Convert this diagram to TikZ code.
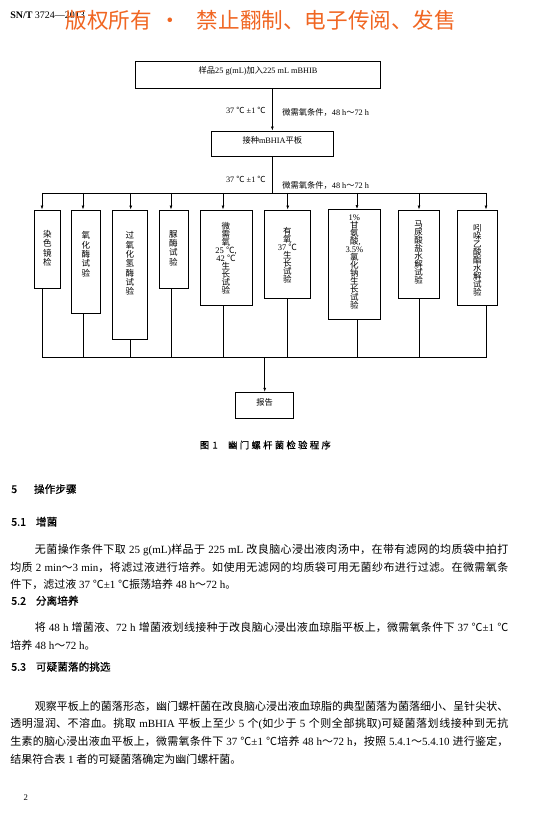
\documentclass[tikz,border=0pt]{standalone}
\usepackage{fontspec}
\setmainfont{Liberation Serif}
\newfontfamily\cjk{Noto Sans CJK SC}
\newfontfamily\hei{Noto Sans CJK SC}[FakeBold=0.6]
\newfontfamily\capfont{Noto Sans CJK SC}[LetterSpace=25,FakeBold=0.6]
\usetikzlibrary{arrows.meta,positioning,fit}

\definecolor{stamp}{RGB}{240,102,34}

% CJK characters get the CJK font, Latin stays serif
\newXeTeXintercharclass\cjkclass
\newcount\cjkcode
\newcommand\markcjk[2]{%
  \cjkcode=#1\relax
  \loop
    \XeTeXcharclass\cjkcode=\cjkclass
    \ifnum\cjkcode<#2\relax
    \advance\cjkcode by 1
  \repeat}
\markcjk{"2103}{"2103}
\markcjk{"3000}{"303F}
\markcjk{"4E00}{"9FFF}
\markcjk{"FF00}{"FFEF}
\XeTeXinterchartoks 0 \cjkclass = {\cjk}
\XeTeXinterchartoks 4095 \cjkclass = {\cjk}
\XeTeXinterchartoks \cjkclass 0 = {\rmfamily}
\XeTeXinterchartoks \cjkclass 4095 = {\rmfamily}
\XeTeXinterchartokenstate=1
\XeTeXlinebreaklocale "zh"
\XeTeXlinebreakskip=0pt plus 1pt minus 0.3pt

\tikzset{
  box/.style={draw, line width=0.7pt, inner sep=0pt},
  flow/.style={line width=0.45pt},
  arr/.style={flow, -{Latex[length=3pt,width=2.2pt]}},
  small/.style={inner sep=0pt, font=\fontsize{6.2}{7}\selectfont},
  vtext/.style={inner sep=0pt, align=center, anchor=north, font=\fontsize{6.4}{6}\selectfont},
  vtext wide/.style={vtext, font=\fontsize{6.4}{7}\selectfont},
  heading/.style={inner sep=0pt, anchor=west,
    font={\XeTeXinterchartokenstate=0 \hei\fontsize{8}{10}\selectfont}},
  body/.style={inner sep=0pt, anchor=north west, text width=373.5pt, align=justify,
    font=\fontsize{8.25}{13.2}\selectfont},
  caption/.style={inner sep=0pt, anchor=west,
    font={\XeTeXinterchartokenstate=0 \capfont\fontsize{7}{8}\selectfont}},
}

\begin{document}
\begin{tikzpicture}[x=0.75pt,y=-0.75pt]
  \useasboundingbox (0,0) rectangle (535,816);

  % page head
  \node[inner sep=0pt, anchor=west, font=\fontsize{7.5}{9}\selectfont] (head) at (10,15)
    {\textbf{SN/T} 3724—2013};
  \node[inner sep=0pt, anchor=west, text=stamp,
    font={\XeTeXinterchartokenstate=0 \cjk\fontsize{16.2}{18}\selectfont}] (stamp) at (65.5,20)
    {版权所有\kern13.5pt\makebox[0pt]{·}\kern20pt 禁止翻制、电子传阅、发售};

  % flow chart
  \node[box, small, fit={(135.7,61) (380.3,88.3)}] (sample) {样品25 g(mL)加入225 mL mBHIB};
  \node[box, small, fit={(211.7,131) (333,156.7)}] (plate) {接种mBHIA平板};

  \node[small, anchor=east] (temp1) at (266,110) {37 ℃ ±1 ℃};
  \node[small, anchor=west] (cond1) at (282,112) {微需氧条件，48 h～72 h};
  \node[small, anchor=east] (temp2) at (266,179) {37 ℃ ±1 ℃};
  \node[small, anchor=west] (cond2) at (282,185) {微需氧条件，48 h～72 h};

  \node[box, fit={(34.7,210) (60,288)}] (dye) {};
  \node[box, fit={(71,210) (100.7,313)}] (oxid) {};
  \node[box, fit={(112,210) (147.7,339)}] (cata) {};
  \node[box, fit={(159,210) (188,288)}] (urea) {};
  \node[box, fit={(200,210) (252,305)}] (micro) {};
  \node[box, fit={(264,210) (310.7,298)}] (aero) {};
  \node[box, fit={(328.3,209.5) (380.5,319.5)}] (glyc) {};
  \node[box, fit={(398.3,210) (439.2,298)}] (hipp) {};
  \node[box, fit={(457,210) (497.7,305)}] (indo) {};

  \node[vtext wide, below=15.5pt of dye.north] (dyeT) {染\\色\\镜\\检};
  \node[vtext wide, below=16.3pt of oxid.north] (oxidT) {氧\\化\\酶\\试\\验};
  \node[vtext wide, below=16.3pt of cata.north] (cataT) {过\\氧\\化\\氢\\酶\\试\\验};
  \node[vtext wide, below=15.5pt of urea.north] (ureaT) {脲\\酶\\试\\验};
  \node[vtext, below=9.5pt of micro.north] (microT) {微\\需\\氧\\25 ℃,\\42 ℃\\生\\长\\试\\验};
  \node[vtext, below=13.5pt of aero.north] (aeroT) {有\\氧\\37 ℃\\生\\长\\试\\验};
  \node[vtext, below=4.1pt of glyc.north] (glycT) {1\%\\甘\\氨\\酸\rlap{,}\\3.5\%\\氯\\化\\钠\\生\\长\\试\\验};
  \node[vtext, below=8pt of hipp.north] (hippT) {马\\尿\\酸\\盐\\水\\解\\试\\验};
  \node[vtext, below=11.25pt of indo.north] (indoT) {吲\\哚\\乙\\酸\\酯\\水\\解\\试\\验};

  \node[box, small, fit={(235.7,392.3) (293.7,418.7)}] (report) {报告};

  \coordinate (busL) at (42,193);
  \coordinate (busR) at (486,193);
  \coordinate (lowL) at (42,357.7);
  \coordinate (lowR) at (486.7,357.7);
  \coordinate (d1) at (42,193);
  \coordinate (d2) at (83,193);
  \coordinate (d3) at (130.7,193);
  \coordinate (d4) at (171,193);
  \coordinate (d5) at (223,193);
  \coordinate (d6) at (287.7,193);
  \coordinate (d7) at (357,193);
  \coordinate (d8) at (419,193);
  \coordinate (d9) at (486,193);

  \draw[arr] (sample.south -| plate.north) -- (plate.north);
  \draw[flow] (plate.south) -- (plate.south |- busL);
  \draw[flow] (busL) -- (busR);

  \draw[arr] (d1) -- (d1 |- dye.north);
  \draw[arr] (d2) -- (d2 |- oxid.north);
  \draw[arr] (d3) -- (d3 |- cata.north);
  \draw[arr] (d4) -- (d4 |- urea.north);
  \draw[arr] (d5) -- (d5 |- micro.north);
  \draw[arr] (d6) -- (d6 |- aero.north);
  \draw[arr] (d7) -- (d7 |- glyc.north);
  \draw[arr] (d8) -- (d8 |- hipp.north);
  \draw[arr] (d9) -- (d9 |- indo.north);

  \draw[flow] (dye.south -| d1) -- (d1 |- lowL);
  \draw[flow] (oxid.south -| d2) -- (d2 |- lowL);
  \draw[flow] (cata.south -| d3) -- (d3 |- lowL);
  \draw[flow] (urea.south -| d4) -- (d4 |- lowL);
  \draw[flow] (micro.south -| d5) -- (d5 |- lowL);
  \draw[flow] (aero.south -| d6) -- (d6 |- lowL);
  \draw[flow] (glyc.south -| d7) -- (d7 |- lowL);
  \draw[flow] (hipp.south -| d8) -- (d8 |- lowL);
  \draw[flow] (indo.south -| d9) -- (d9 |- lowL);
  \draw[flow] (lowL) -- (lowR);
  \draw[arr] (report.north |- lowL) -- (report.north);

  \node[caption] (cap) at (199.5,445) {图\kern2.5pt 1\kern7.9pt 幽门螺杆菌检验程序};

  % text
  \node[heading] (s5) at (11,489) {\makebox[17pt][l]{5}操作步骤};
  \node[heading] (s51) at (11,521.7) {\makebox[18.5pt][l]{5.1}增菌};
  \node[body] (p51) at (10,544) {\noindent\hspace*{18.5pt}无菌操作条件下取 25 g(mL)样品于 225 mL 改良脑心浸出液肉汤中，在带有滤网的均质袋中拍打\linebreak
    均质 2 min～3 min，将滤过液进行培养。如使用无滤网的均质袋可用无菌纱布进行过滤。在微需氧条\linebreak
    件下，滤过液 37 ℃±1 ℃振荡培养 48 h～72 h。};
  \node[heading] (s52) at (11,600.7) {\makebox[18.5pt][l]{5.2}分离培养};
  \node[body] (p52) at (10,622.3) {\noindent\hspace*{18.5pt}将 48 h 增菌液、72 h 增菌液划线接种于改良脑心浸出液血琼脂平板上，微需氧条件下 37 ℃±1 ℃\linebreak
    培养 48 h～72 h。};
  \node[heading] (s53) at (11,666.7) {\makebox[18.5pt][l]{5.3}可疑菌落的挑选};
  \node[body] (p53) at (10,700.7) {\noindent\hspace*{18.5pt}观察平板上的菌落形态，幽门螺杆菌在改良脑心浸出液血琼脂的典型菌落为菌落细小、呈针尖状、\linebreak
    透明湿润、不溶血。挑取 mBHIA 平板上至少 5 个(如少于 5 个则全部挑取)可疑菌落划线接种到无抗\linebreak
    生素的脑心浸出液血平板上，微需氧条件下 37 ℃±1 ℃培养 48 h～72 h，按照 5.4.1～5.4.10 进行鉴定，\linebreak
    结果符合表 1 者的可疑菌落确定为幽门螺杆菌。};

  \node[inner sep=0pt, font=\fontsize{6.5}{8}\selectfont] (pageno) at (25.7,798) {2};
\end{tikzpicture}
\end{document}
